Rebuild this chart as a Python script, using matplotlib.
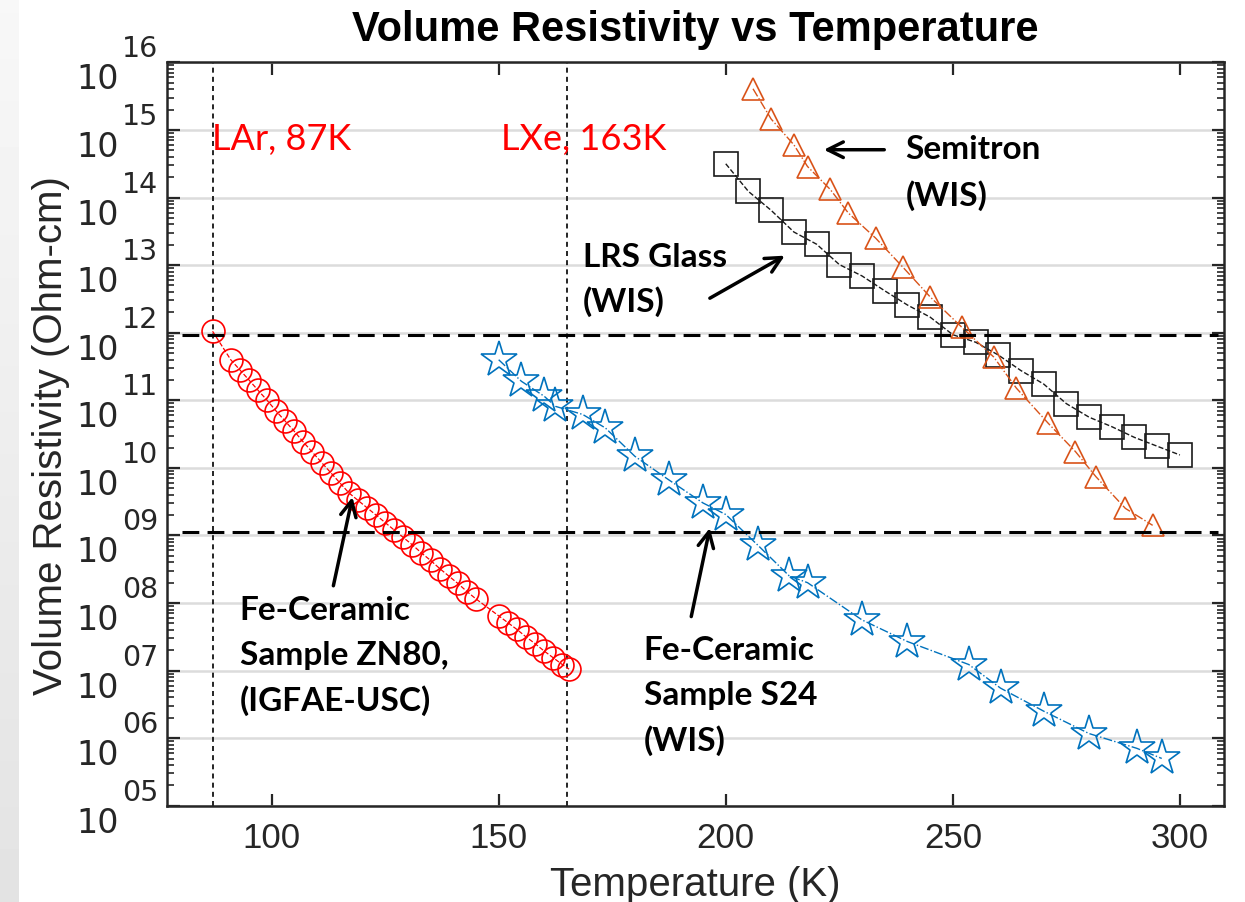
import numpy as np
import matplotlib
matplotlib.use('Agg')
import matplotlib.pyplot as plt
from matplotlib import transforms
from matplotlib.ticker import FixedLocator, LogLocator, NullFormatter

plt.rcParams['font.family'] = ['Liberation Sans', 'DejaVu Sans']

# Fe-Ceramic ZN80 (IGFAE-USC)
temp_zn80 = [87, 91, 93, 95, 97, 99, 101, 103, 105, 107, 109, 111, 113, 115, 117,
             119, 121, 123, 125, 127, 129, 131, 133, 135, 137, 139, 141, 143, 145,
             150, 152, 154, 156, 158, 160, 162, 164, 165.5]
rho_zn80 = [1.05e12, 3.98e11, 2.82e11, 2.00e11, 1.41e11, 1.00e11, 6.92e10, 4.90e10,
            3.47e10, 2.40e10, 1.70e10, 1.20e10, 8.51e9, 6.03e9, 4.27e9, 3.31e9,
            2.57e9, 2.00e9, 1.55e9, 1.20e9, 9.33e8, 7.24e8, 5.50e8, 4.27e8, 3.24e8,
            2.51e8, 1.95e8, 1.48e8, 1.15e8, 6.46e7, 5.13e7, 4.07e7, 3.16e7, 2.51e7,
            1.95e7, 1.55e7, 1.23e7, 1.05e7]

# Fe-Ceramic S24 (WIS)
temp_s24 = [150, 155, 160, 162.5, 168.5, 173.5, 180, 187.5, 195, 200, 207, 214, 218,
            230, 240, 253.5, 260.5, 270, 280, 290.5, 296]
rho_s24 = [3.98e11, 1.91e11, 1.15e11, 8.13e10, 6.17e10, 3.89e10, 1.48e10, 6.61e9,
           3.02e9, 2.04e9, 7.24e8, 2.51e8, 2.00e8, 5.62e7, 2.69e7, 1.23e7, 5.50e6,
           2.51e6, 1.17e6, 7.08e5, 5.01e5]

# LRS Glass (WIS)
temp_lrs = [200, 205, 210, 215, 220, 225, 230, 235, 240, 245, 250, 255, 260, 265,
            270, 275, 280, 285, 290, 295, 300]
rho_lrs = [3.16e14, 1.23e14, 6.46e13, 3.09e13, 2.04e13, 1.02e13, 6.92e12, 4.17e12,
           2.57e12, 1.70e12, 9.33e11, 7.24e11, 4.68e11, 2.75e11, 1.74e11, 8.91e10,
           5.62e10, 4.07e10, 2.82e10, 2.09e10, 1.55e10]

# Semitron (WIS)
temp_semi = [206, 210, 215, 218, 223, 227, 233, 239, 245, 252, 259, 264, 271, 277,
             281.5, 288, 294]
rho_semi = [4.07e15, 1.45e15, 6.03e14, 2.88e14, 1.32e14, 5.89e13, 2.51e13, 9.33e12,
            3.39e12, 1.20e12, 4.37e11, 1.51e11, 4.57e10, 1.74e10, 7.41e9, 2.51e9, 1.41e9]

cryo_temps = [87, 165]          # LAr / LXe markers
ref_levels = [9.1e11, 1.12e9]   # target resistivity window
xticks = [100, 150, 200, 250, 300]
yexp = list(range(5, 17))

fig = plt.figure(figsize=(12.45, 9.03), dpi=100)

# grey slide edge on the left
strip = fig.add_axes([0, 0, 0.0145, 1], zorder=-5)
strip.imshow(np.linspace(0.97, 0.89, 256).reshape(-1, 1), cmap='gray', vmin=0, vmax=1,
             aspect='auto')
strip.axis('off')

ax = fig.add_axes([0.1339, 0.1066, 0.8492, 0.8232])
ax.set_yscale('log')
ax.set_xlim(76.9, 309.7)
ax.set_ylim(1e5, 1e16)

ax.yaxis.set_major_locator(FixedLocator([10.0 ** k for k in yexp]))
ax.yaxis.set_minor_locator(LogLocator(base=10, subs=np.arange(2, 10), numticks=200))
ax.yaxis.set_major_formatter(NullFormatter())
ax.yaxis.set_minor_formatter(NullFormatter())
ax.set_xticks(xticks)
ax.yaxis.grid(True, which='major', color='#dcdcdc', lw=1.8)
ax.set_axisbelow(True)

ax.tick_params(axis='both', which='both', direction='in', top=True, right=True,
               color='#262626', labelcolor='#262626')
ax.tick_params(which='major', length=9, width=1.6)
ax.tick_params(which='minor', length=5, width=1.2)
ax.tick_params(axis='x', labelsize=25, pad=11)
for s in ax.spines.values():
    s.set_linewidth(1.8)
    s.set_color('#262626')

# y tick labels drawn as "10" + raised exponent, like the original
ylab_tr = transforms.blended_transform_factory(ax.transAxes, ax.transData)
for k in yexp:
    ax.text(-0.0451, 10.0 ** k, '10', transform=ylab_tr, ha='right', va='top',
            fontsize=24, color='#262626', family='DejaVu Sans', clip_on=False)
    ax.text(-0.0423, 10.0 ** k, '%02d' % k, transform=ylab_tr, ha='left', va='bottom',
            fontsize=20.5, color='#262626', family='DejaVu Sans', clip_on=False)

# reference lines
for t in cryo_temps:
    ax.axvline(t, color='k', lw=1.2, ls=(0, (3, 2.5)), zorder=1)
ax.hlines(ref_levels, 80.2, 308.4, colors='k', lw=2.2, linestyles=(0, (5.5, 2.7)), zorder=4)

# data
ax.plot(temp_zn80, rho_zn80, ls='--', color='#ff0000', lw=0.9, marker='o', ms=16.5,
        mfc='none', mew=1.2, zorder=3)
ax.plot(temp_s24, rho_s24, ls='-.', color='#0072bd', lw=1.0, marker='*', ms=27,
        mfc='none', mew=1.2, zorder=3)
ax.plot(temp_lrs, rho_lrs, ls='--', color='#1a1a1a', lw=1.0, marker='s', ms=17,
        mfc='none', mew=1.2, zorder=3)
ax.plot(temp_semi, rho_semi, ls='-.', color='#d95319', lw=1.0, marker='^', ms=16,
        mfc='none', mew=1.2, zorder=3)

ax.set_title('Volume Resistivity vs Temperature', fontsize=30, fontweight='bold', pad=16)
ax.set_xlabel('Temperature (K)', fontsize=29, color='#262626')
ax.set_ylabel('Volume Resistivity (Ohm-cm)', fontsize=29, color='#262626')
ax.xaxis.set_label_coords(0.5, -0.0798)
ax.yaxis.set_label_coords(-0.0915, 0.5)


def label(x, y, lines, size=24, color='k', weight='bold', pitch=45):
    for i, line in enumerate(lines):
        tr = transforms.offset_copy(ax.transData, fig=fig, x=0, y=-i * pitch, units='dots')
        ax.text(x, y, line, transform=tr, ha='left', va='center', fontsize=size,
                color=color, fontweight=weight, family=['Lato', 'DejaVu Sans'], zorder=6)


def arrow(tail, head):
    ax.annotate('', xy=head, xytext=tail,
                arrowprops=dict(arrowstyle='->', lw=2.5, color='k', mutation_scale=28,
                                shrinkA=0, shrinkB=0), zorder=6)


label(86.9, 7.6e14, ['LAr, 87K'], size=26, color='#ff0000', weight='normal')
label(150.6, 7.6e14, ['LXe, 163K'], size=26, color='#ff0000', weight='normal')
label(239.6, 5.4e14, ['Semitron', '(WIS)'], pitch=47)
label(168.5, 1.36e13, ['LRS Glass', '(WIS)'])
label(93.0, 8.1e7, ['Fe-Ceramic', 'Sample ZN80,', '(IGFAE-USC)'])
label(181.9, 2.04e7, ['Fe-Ceramic', 'Sample S24', '(WIS)'])

arrow((234.9, 5.1e14), (221.6, 5.1e14))
arrow((196.5, 3.24e12), (213.0, 1.38e13))
arrow((113.6, 1.8e8), (117.8, 3.7e9))
arrow((192.4, 6.3e7), (196.5, 1.29e9))

fig.savefig('out.png', dpi=100)
